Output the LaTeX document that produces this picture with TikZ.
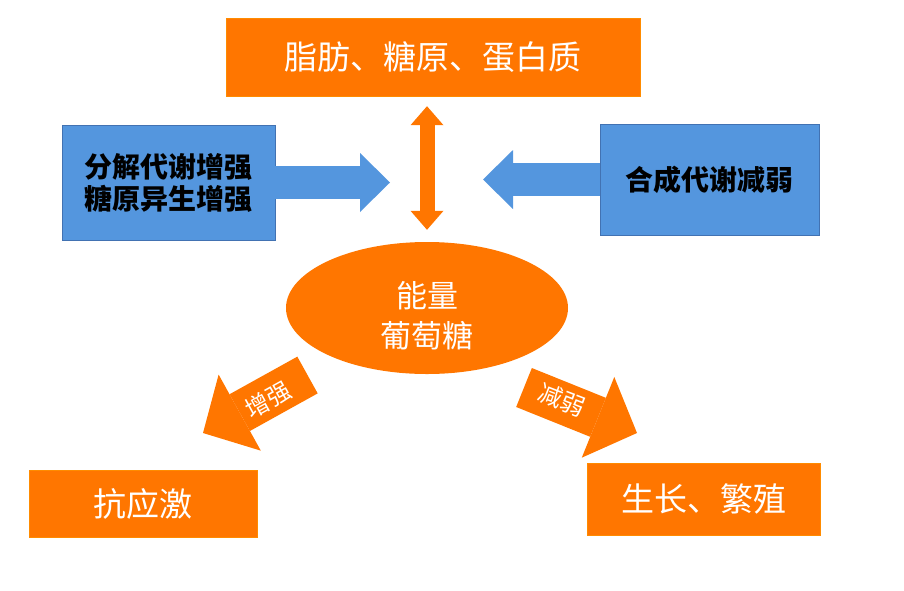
\documentclass[tikz,border=0pt]{standalone}
\usepackage{fontspec}
\newfontfamily\cjk{Noto Sans CJK SC}
\usetikzlibrary{arrows.meta,shapes.geometric}
\definecolor{orng}{RGB}{255,118,0}
\definecolor{blu}{RGB}{84,150,222}
\definecolor{bluedge}{RGB}{66,114,178}
\begin{document}
\begin{tikzpicture}[x=1pt, y=-1pt,
  obox/.style={fill=orng, draw=orng!85!yellow, text=white,
    font=\cjk\fontsize{33}{36}\selectfont},
  bbox/.style={fill=blu, draw=bluedge, text=black, align=center,
    font=\cjk\bfseries\fontsize{28}{32}\selectfont},
  tag/.style={text=white, font=\cjk\fontsize{24}{24}\selectfont},
  fatarrow/.style={draw=#1, line width=33pt,
    -{Triangle[width=59pt, length=30pt, line width=0pt]}},
  slant/.style={draw=orng, line width=42pt,
    -{Triangle[width=87pt, length=42pt, line width=0pt]}}]
\useasboundingbox (0,0) rectangle (904,590);

\node[obox, minimum width=414pt, minimum height=78pt] (stores) at (433,57) {脂肪、糖原、蛋白质};
\node[bbox, minimum width=213pt, minimum height=115pt] (catab) at (168.5,182.5) {分解代谢增强\\糖原异生增强};
\node[bbox, minimum width=219pt, minimum height=111pt] (anab) at (709.5,179.5) {合成代谢减弱};
\node[ellipse, fill=orng, text=white, align=center, minimum width=282pt, minimum height=132pt,
  text height=81pt, font=\cjk\fontsize{31}{40}\selectfont] (energy) at (427,308) {能量\\葡萄糖};
\node[obox, minimum width=228pt, minimum height=67pt] (stress) at (143,503.5) {抗应激};
\node[obox, minimum width=233pt, minimum height=72pt] (growth) at (703.5,499) {生长、繁殖};

\draw[orng, line width=15pt,
  {Triangle[width=33pt, length=19pt, line width=0pt]}-{Triangle[width=33pt, length=19pt, line width=0pt]}]
  ([yshift=-10pt]stores.south -| energy.north) -- ([yshift=12pt]energy.north);

\coordinate (ltip) at (390,182.5);
\coordinate (rtip) at (483,179.5);
\draw[fatarrow=blu] (catab.east) -- (ltip);
\draw[fatarrow=blu] (anab.west) -- (rtip);

\coordinate (l0) at (307.5,375);
\coordinate (l1) at (203,433);
\coordinate (r0) at (524,387.5);
\coordinate (r1) at (637,433);
\draw[slant] (l0) -- (l1);
\draw[slant] (r0) -- (r1);
\node[tag, rotate=29] (more) at (268,400) {增强};
\node[tag, rotate=-21] (less) at (562,400) {减弱};
\end{tikzpicture}
\end{document}
